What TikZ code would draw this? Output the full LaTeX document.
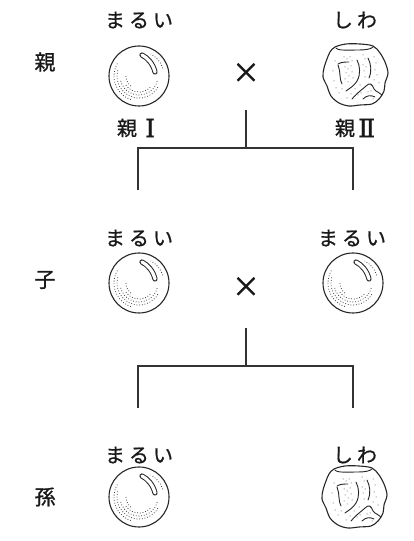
\documentclass[tikz,border=0pt]{standalone}
\usepackage{fontspec}
\newfontfamily\jp[FakeBold=0.9]{Noto Sans CJK JP}
\newfontfamily\numeral[FakeBold=1.2]{DejaVu Serif}
\tikzset{
  outline/.style={line width=1.1pt, draw=black!85},
  stipple/.style={line width=0.8pt, draw=black!75, dash pattern=on 0.8pt off 1.9pt},
  ridge/.style={line width=0.9pt, draw=black!85, line cap=round},
  % smooth, round pea with a highlight and stippled shading
  roundpea/.pic={
    \draw[outline] (0,0) circle[radius=30];
    \draw[line width=5.2pt, black!85, line cap=round]
      (3,21) .. controls (9,18) and (14,12) .. (16,4);
    \draw[line width=3.2pt, white, line cap=round]
      (3,21) .. controls (9,18) and (14,12) .. (16,4);
    \draw[stipple] (150:25) arc[start angle=150, end angle=255, radius=25];
    \draw[stipple] (165:22) arc[start angle=165, end angle=330, radius=22];
    \draw[stipple] (195:19) arc[start angle=195, end angle=348, radius=19];
    \draw[stipple] (215:16) arc[start angle=215, end angle=320, radius=16];
    \draw[stipple] (180:13) arc[start angle=180, end angle=235, radius=13];
    \draw[stipple] (18:25) arc[start angle=18, end angle=62, radius=25];
  },
  % wrinkled pea: bumpy outline, ridges and stippling
  wrinkledpea/.pic={
    \draw[outline, line join=round] plot[smooth cycle, tension=0.55] coordinates {
      (-19,28) (-8,31) (6,31) (19,29) (26,22) (31,13) (34,2) (31,-8)
      (30,-16) (25,-24) (18,-29) (6,-30) (-5,-31) (-15,-28) (-23,-21)
      (-27,-11) (-31,-2) (-30,7) (-27,16) (-24,23)};
    \draw[ridge] (-18,27) .. controls (-16,24) and (-5,25) .. (5,25)
                 .. controls (12,25) and (17,26) .. (19,28);
    \draw[ridge] (-16,11) .. controls (-13,13) and (-8,13) .. (-5,13);
    \draw[ridge] (-16,10) .. controls (-13,3) and (-15,-4) .. (-12,-9);
    \draw[ridge] (3,15) .. controls (6,9) and (7,1) .. (3,-6)
                 .. controls (0,-11) and (-4,-13) .. (-8,-16);
    \draw[ridge] (14,17) .. controls (17,11) and (18,4) .. (15,-3);
    \draw[ridge] (-2,-24) .. controls (4,-17) and (9,-14) .. (12,-11)
                 .. controls (16,-7) and (18,-9) .. (20,-14)
                 .. controls (23,-18) and (26,-17) .. (28,-20);
    \draw[ridge] (9,-24) .. controls (13,-20) and (17,-20) .. (21,-22);
    \foreach \p in {(-10,18),(-7,16),(-4,18),(-2,14),(-9,8),(-6,6),(-3,9),(-8,2),
                    (-5,-1),(-9,-4),(-6,-7),(-2,3),(-1,-3),(-12,-14),(-15,-18),
                    (-18,-13),(-20,-6),(-21,4),(-19,14),(9,20),(11,16),(9,10),
                    (10,4),(11,-2),(20,18),(22,12),(21,5),(23,0),(20,-5),
                    (25,-8),(4,-20),(7,-18),(14,-17),(17,-16),(1,-14),(6,-10),
                    (-3,-19),(-7,-23),(12,8),(19,-24)}
      \fill[black!75] \p circle[radius=0.5];
  }
}
\begin{document}
\begin{tikzpicture}[x=1pt, y=1pt,
  lbl/.style={font=\jp\fontsize{20}{20}\selectfont, text=black!90, inner sep=0pt},
  gen/.style={font=\jp\fontsize{21}{21}\selectfont, text=black!90, inner sep=0pt},
  num/.style={font=\numeral\fontsize{25}{25}\selectfont, text=black!90, inner sep=0pt},
  crossmark/.style={font=\jp\fontsize{28}{28}\selectfont, text=black!90, inner sep=0pt},
  tee/.style={line width=1.2pt, draw=black!80}]
\useasboundingbox (0,0) rectangle (414,541);

% generation labels
\node[gen] (genP) at (45,479) {親};
\node[gen] (genF1) at (45,261) {子};
\node[gen] (genF2) at (45,44) {孫};

% parents
\node[lbl] (shapeP1) at (139,521) {ま\kern4pt る\kern4pt い};
\node[lbl] (shapeP2) at (355,521) {し\kern4pt わ};
\pic (peaP1) at (139,465) {roundpea};
\pic (peaP2) at (354,466) {wrinkledpea};
\node[crossmark] (crossP) at (246,468) {×};
\node[lbl] (nameP1) at (127,413) {親};
\node[num, anchor=west] (numP1) at (145,413) {Ⅰ};
\node[lbl] (nameP2) at (345,413) {親};
\node[num, anchor=west] (numP2) at (358,413) {Ⅱ};

% first cross
\coordinate (topP) at (246,431);
\coordinate (midP) at (246,393);
\coordinate (leftP) at (138,351);
\coordinate (rightP) at (353,351);
\draw[tee] (topP) -- (midP);
\draw[tee] (leftP) |- (midP) -| (rightP);

% children
\node[lbl] (shapeF1a) at (139,303) {ま\kern4pt る\kern4pt い};
\node[lbl] (shapeF1b) at (352,303) {ま\kern4pt る\kern4pt い};
\pic (peaF1a) at (139,258) {roundpea};
\pic (peaF1b) at (353,258) {roundpea};
\node[crossmark] (crossF1) at (246,254) {×};

% second cross
\coordinate (topF1) at (246,213);
\coordinate (midF1) at (246,175);
\coordinate (leftF1) at (138,133);
\coordinate (rightF1) at (353,133);
\draw[tee] (topF1) -- (midF1);
\draw[tee] (leftF1) |- (midF1) -| (rightF1);

% grandchildren
\node[lbl] (shapeF2a) at (139,86) {ま\kern4pt る\kern4pt い};
\node[lbl] (shapeF2b) at (355,86) {し\kern4pt わ};
\pic (peaF2a) at (139,44) {roundpea};
\pic (peaF2b) at (353,44) {wrinkledpea};
\end{tikzpicture}
\end{document}
